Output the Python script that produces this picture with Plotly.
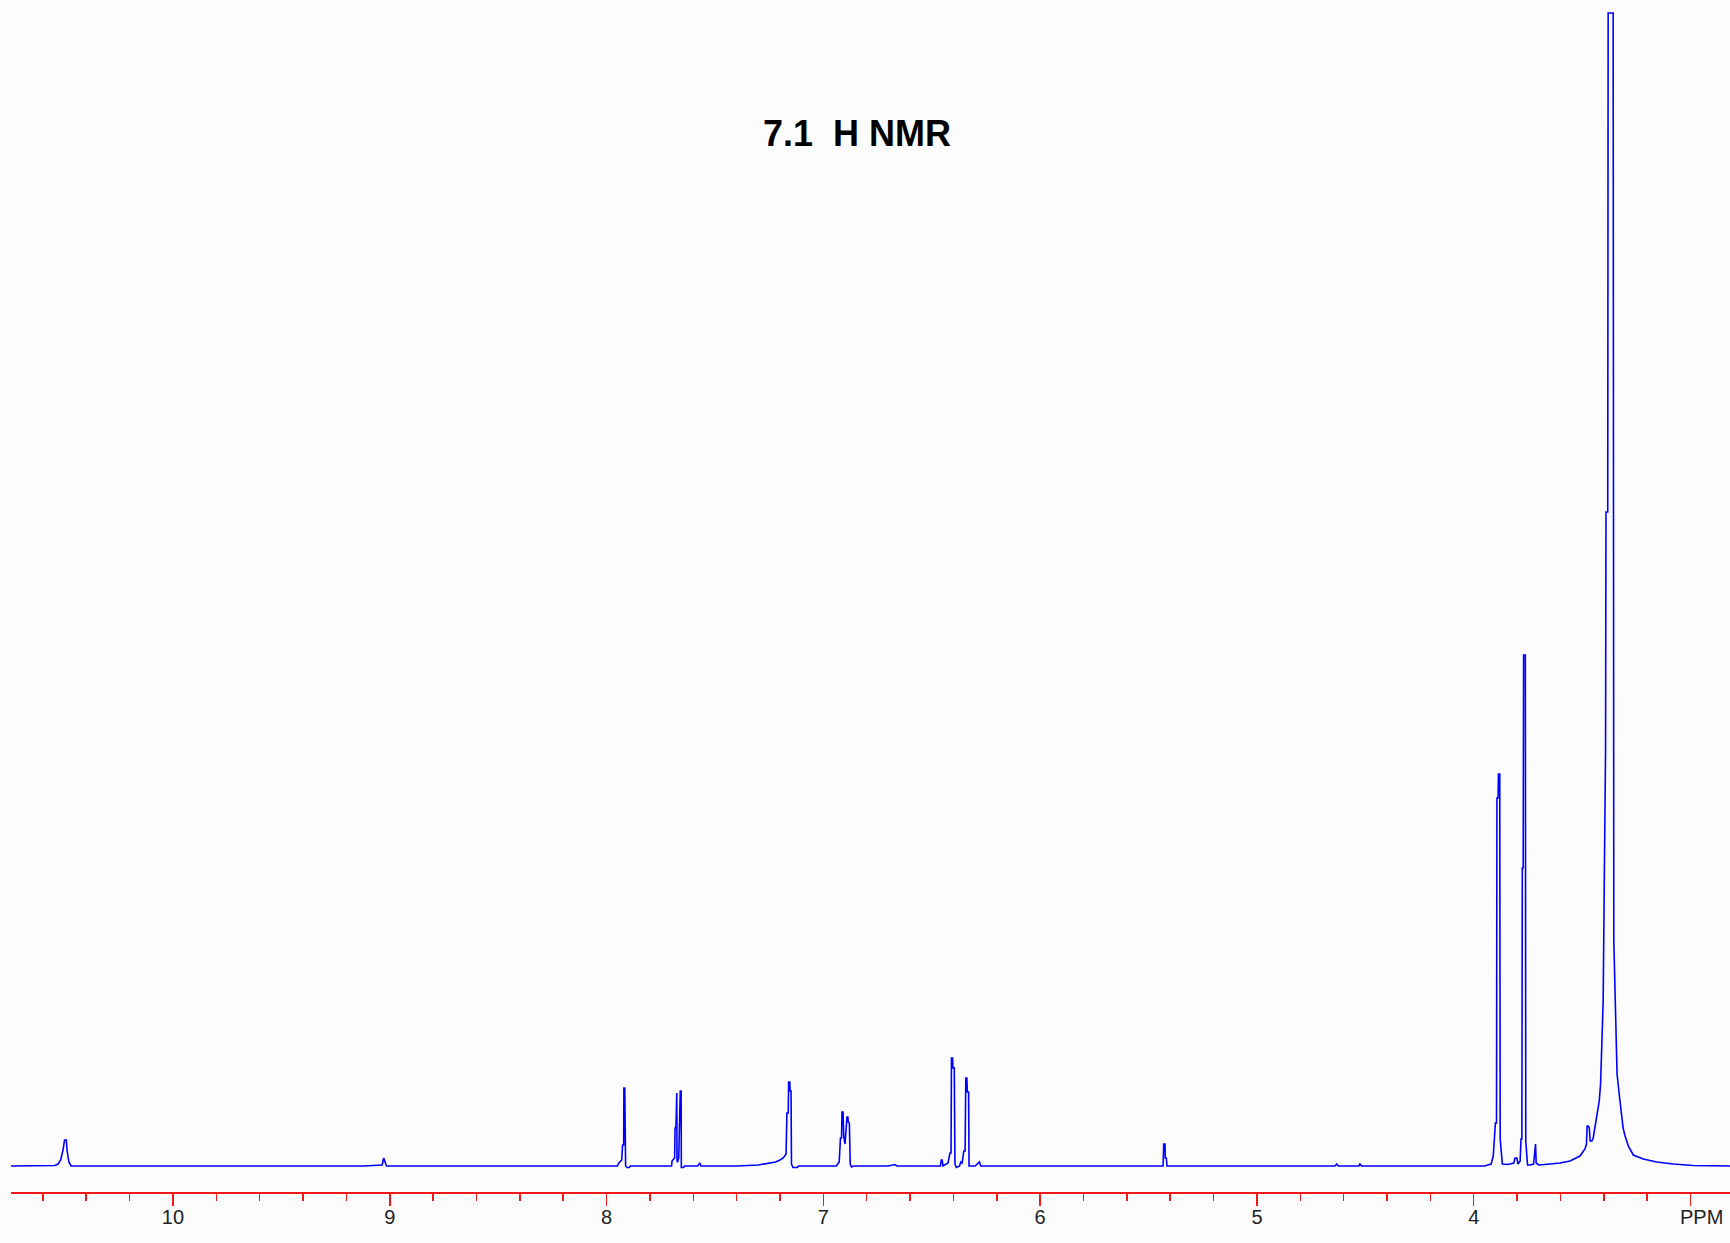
import plotly.graph_objects as go

# Spectrum trace: chemical shift (ppm) and intensity (arb. units, baseline = 0)
shift_ppm = [
    10.747, 10.70, 10.545, 10.530, 10.518, 10.507, 10.500, 10.492, 10.488, 10.480, 10.470,
    9.12, 9.035, 9.028, 9.020, 9.015,
    8.50, 7.95, 7.943, 7.930, 7.926, 7.921, 7.920, 7.916, 7.912, 7.905, 7.895, 7.890,
    7.70, 7.698, 7.686, 7.684, 7.680, 7.679, 7.676, 7.675, 7.672, 7.667, 7.665, 7.662,
    7.660, 7.656, 7.655, 7.645, 7.640,
    7.58, 7.569, 7.565,
    7.40, 7.30, 7.25, 7.22, 7.20, 7.185, 7.172, 7.168, 7.162, 7.160, 7.155, 7.153, 7.149,
    7.147, 7.140, 7.12, 7.115,
    6.94, 6.927, 6.921, 6.916, 6.914, 6.909, 6.906, 6.900, 6.896, 6.891, 6.887, 6.885,
    6.880, 6.876, 6.870, 6.86,
    6.70, 6.67, 6.66,
    6.46, 6.456, 6.452, 6.448, 6.425, 6.416, 6.411, 6.409, 6.404, 6.402, 6.396, 6.393,
    6.386, 6.372, 6.366, 6.360, 6.352, 6.346, 6.343, 6.338, 6.336, 6.330, 6.328,
    6.30, 6.280, 6.274,
    6.0, 5.44, 5.433, 5.430, 5.424, 5.423, 5.418, 5.415,
    5.20, 4.64, 4.632, 4.625, 4.53, 4.525, 4.518,
    3.95, 3.92, 3.910, 3.900, 3.895, 3.893, 3.888, 3.886, 3.880, 3.878, 3.872, 3.868,
    3.842, 3.815, 3.810, 3.801, 3.796, 3.786, 3.782, 3.778, 3.776, 3.772, 3.770, 3.762,
    3.760, 3.756, 3.752, 3.741, 3.724, 3.722, 3.718, 3.715, 3.712, 3.700, 3.672, 3.640,
    3.602, 3.556, 3.510, 3.487, 3.480, 3.477, 3.472, 3.467, 3.463, 3.455, 3.449, 3.440,
    3.433, 3.421, 3.415, 3.410, 3.403, 3.398, 3.392, 3.390, 3.382, 3.380, 3.357, 3.354,
    3.346, 3.339, 3.328, 3.319, 3.311, 3.302, 3.287, 3.264, 3.218, 3.156, 3.080, 2.989,
    2.90, 2.818,
]
intensity = [
    0, 0, 0.5, 2, 6, 16, 26, 26, 15, 4, 0,
    0, 1, 8, 3, 0,
    0, 0, 3, 6, 21, 21, 78, 78, 0, -1.5, -1.5, 0,
    0, 5, 8, 38, 38, 73, 73, 5, 4, 8, 38, 38,
    75, 75, -1.5, -1.5, 0,
    0, 3, 0,
    0, 1, 2.5, 4, 6, 8, 12, 53, 53, 84, 84, 75, 75,
    2, -1.5, -1.5, 0,
    0, 4, 28, 28, 54, 54, 30, 22, 35, 49, 49, 44,
    43, 2, -1, 0,
    0, 1.5, 0,
    0, 6, 6, 0, 3, 13, 13, 108, 108, 98, 98, 2,
    -1.5, 0, 4, 3, 15, 15, 88, 88, 74, 74, 0,
    0, 4, 0,
    0, 0, 0, 22, 22, 8, 8, 0,
    0, 0, 2, 0, 0, 2, 0,
    0, 2, 10, 43, 43, 368, 368, 392, 392, 27, 10, 2,
    1.5, 3, 8, 8, 2, 5, 27, 27, 298, 298, 511, 511,
    25, 8, 1, 1, 2, 6, 22, 22, 3, 1, 1.5, 2,
    3, 5, 10, 17, 22, 40, 40, 38, 25, 25, 28, 40,
    48, 65, 82, 112, 165, 282, 415, 654, 654, 1153, 1153, 226,
    139, 92, 70, 52, 38, 30, 20, 11, 7, 4, 2, 0.5,
    0, 0,
]

tick_values = [10, 9, 8, 7, 6, 5, 4, 3]
tick_labels = ["10", "9", "8", "7", "6", "5", "4", "\u00a0\u00a0\u00a0\u00a0PPM"]
title_text = "7.1  H NMR"

W, H = 1730, 1243
M_L, M_R, M_T, M_B = 11, 0, 11, 51

fig = go.Figure()
fig.add_trace(go.Scatter(
    x=shift_ppm, y=intensity, mode="lines",
    line=dict(color="#0000ff", width=1.6, shape="linear"),
    hoverinfo="skip", showlegend=False,
))

fig.add_annotation(
    text=title_text.replace("  ", "\u00a0\u00a0"), xref="paper", yref="paper",
    x=(857 - M_L) / (W - M_L - M_R), y=(H - M_B - 133.5) / (H - M_T - M_B),
    xanchor="center", yanchor="middle", showarrow=False,
    font=dict(family="Liberation Sans, Arial, sans-serif", size=36, color="#000000",
              weight="bold"),
)

fig.update_layout(
    width=W, height=H, autosize=False,
    margin=dict(l=M_L, r=M_R, t=M_T, b=M_B, pad=0),
    paper_bgcolor="#fcfcfc", plot_bgcolor="#fcfcfc",
    hovermode=False,
    xaxis=dict(
        range=[10.747, 2.818], showgrid=False, zeroline=False,
        showline=True, linecolor="#f01818", linewidth=1.5,
        ticks="outside", ticklen=12, tickwidth=1.5, tickcolor="#f01818",
        tickmode="array", tickvals=tick_values, ticktext=tick_labels,
        ticklabelstandoff=-6,
        tickfont=dict(family="Liberation Sans, Arial, sans-serif", size=20, color="#222222"),
        minor=dict(tick0=0, dtick=0.2, ticks="outside", ticklen=7, tickwidth=1.5,
                   tickcolor="#f01818", showgrid=False),
        fixedrange=True,
    ),
    yaxis=dict(range=[-26, 1155], visible=False, fixedrange=True),
)

fig.write_html("out.html", config={"displayModeBar": False, "staticPlot": True})
